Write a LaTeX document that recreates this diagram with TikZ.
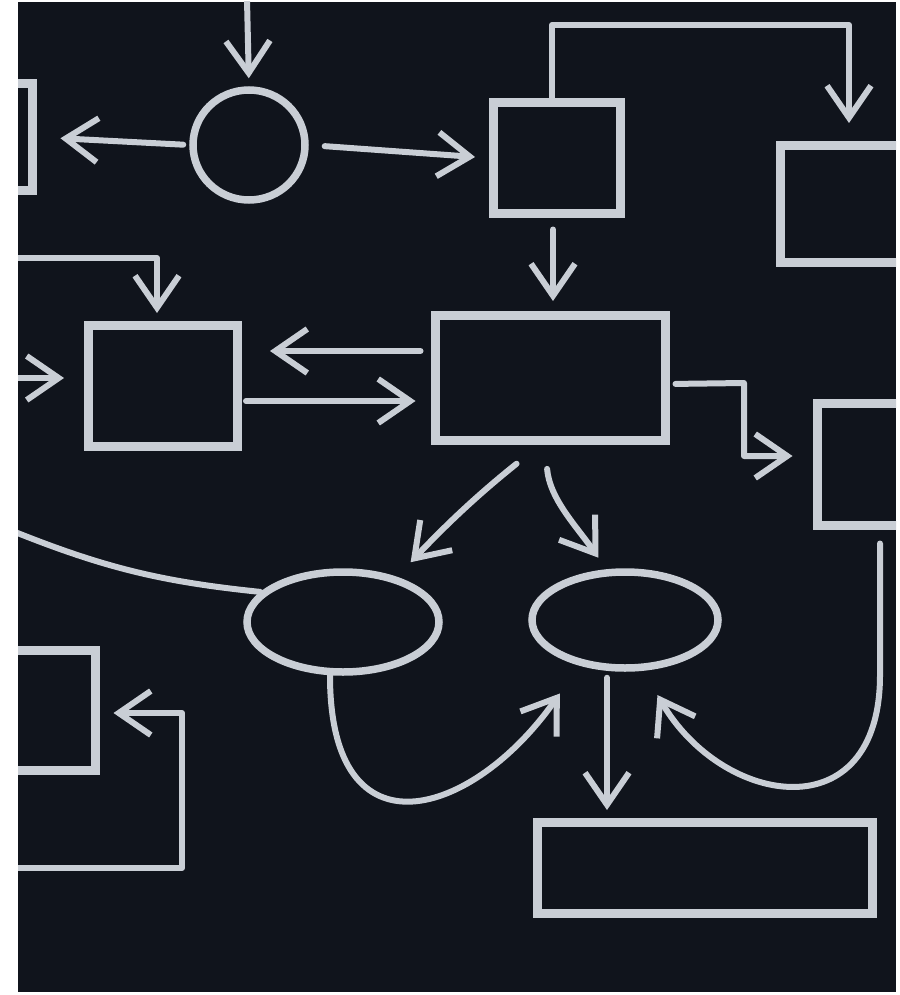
\documentclass[tikz,border=0pt]{standalone}
\usepackage{tikz}
\usetikzlibrary{arrows.meta,shapes.geometric}
\definecolor{board}{HTML}{10141C}
\definecolor{chalk}{HTML}{C9CED5}

\begin{document}
\begin{tikzpicture}[x=1pt, y=-1pt, >={Straight Barb[length=32pt,width=44pt]},
    chalkbox/.style={rectangle, draw=chalk, line width=9pt, inner sep=0pt},
    chalkoval/.style={ellipse, draw=chalk, line width=7.5pt, inner sep=0pt},
    chalkline/.style={draw=chalk, line width=6pt, line cap=round, line join=round},
    chalkarrow/.style={chalkline, ->}
]
  \useasboundingbox (0,0) rectangle (899,995);
  \fill[white] (0,0) rectangle (899,995);
  \fill[board] (18,2) rectangle (896,992);
  \clip (18,2) rectangle (896,992);

  % boxes cut by the edge of the board
  \node[chalkbox, minimum width=120pt, minimum height=107pt] (lbox1) at (-28,137) {};
  \node[chalkbox, minimum width=200pt, minimum height=117pt] (rbox1) at (880,204) {};
  \node[chalkbox, minimum width=200pt, minimum height=122pt] (rbox2) at (917,464) {};
  \node[chalkbox, minimum width=200pt, minimum height=120pt] (lbox3) at (-5,710) {};

  % boxes and ovals
  \node[chalkoval, minimum width=112pt, minimum height=110pt] (circ) at (249,145) {};
  \node[chalkbox, minimum width=127pt, minimum height=110pt] (box1) at (557,158) {};
  \node[chalkbox, minimum width=230pt, minimum height=125pt] (box2) at (550,378) {};
  \node[chalkbox, minimum width=149pt, minimum height=121pt] (lbox2) at (163,386) {};
  \node[chalkoval, minimum width=192pt, minimum height=100pt] (ell1) at (343,622) {};
  \node[chalkoval, minimum width=186pt, minimum height=96pt] (ell2) at (625,620) {};
  \node[chalkbox, minimum width=335pt, minimum height=91pt] (box3) at (705,868) {};

  \coordinate (topin) at (247,0);
  \coordinate (loop) at (849,25);
  \coordinate (feedtop) at (10,258);
  \coordinate (feedleft) at (10,378);
  \coordinate (bend) at (744,383);
  \coordinate (feedell) at (10,530);
  \coordinate (jbend) at (880,675);
  \coordinate (brk) at (10,868);
  \coordinate (brkcorner) at (182,713);
  \coordinate (b2w) at ([yshift=27pt]box2.west);
  \coordinate (l2e) at ([yshift=-15pt]lbox2.east);
  \coordinate (e2s) at ([xshift=-18pt]ell2.south);

  % top row
  \draw[chalkarrow, shorten >=8pt] (topin) -- (circ.north);
  \draw[chalkarrow, shorten <=6pt, shorten >=24pt] (circ.west) -- (lbox1.east);
  \draw[chalkarrow, shorten <=16pt, shorten >=14pt] (circ.east) -- (box1.west);
  \draw[chalkarrow, shorten >=18pt] ([xshift=-5pt]box1.north) |- (loop) -- (loop |- rbox1.north);
  \draw[chalkarrow, shorten <=12pt, shorten >=10pt] ([xshift=-4pt]box1.south) -- ([xshift=3pt]box2.north);

  % middle row
  \draw[chalkarrow, shorten >=8pt] (feedtop) -| ([xshift=-6pt]lbox2.north);
  \draw[chalkarrow, shorten >=20pt] (feedleft) -- (feedleft -| lbox2.west);
  \draw[chalkarrow, shorten <=10pt, shorten >=28pt] (b2w) -- (b2w -| lbox2.east);
  \draw[chalkarrow, shorten <=4pt, shorten >=15pt] (l2e) -- (l2e -| box2.west);
  \draw[chalkarrow, shorten <=6pt, shorten >=20pt] ([yshift=-6pt]box2.east) -- (bend) |- ([yshift=8pt]rbox2.west);
  \draw[chalkarrow, shorten <=30pt, shorten >=20pt] ([xshift=-10pt]box2.south) to[bend right=4] (ell1.40);
  \draw[chalkarrow, shorten <=24pt, shorten >=14pt] ([xshift=-5pt]box2.south) to[out=-85, in=125] (ell2.110);

  % bottom row
  \draw[chalkline] (feedell) to[bend right=8] (ell1.160);
  \draw[chalkarrow, shorten >=34pt] ([xshift=-13pt]ell1.south) to[out=-90, in=235, looseness=1.9] (ell2.225);
  \draw[chalkarrow, shorten <=14pt, shorten >=28pt] ([xshift=-37pt]rbox2.south) -- (jbend) to[out=-90, in=300, looseness=1.7] (ell2.290);
  \draw[chalkarrow, shorten <=6pt, shorten >=8pt] (e2s) -- (e2s |- box3.north);
  \draw[chalkarrow, shorten >=14pt] (brk) -| (brkcorner) -- (brkcorner -| lbox3.east);
\end{tikzpicture}
\end{document}
